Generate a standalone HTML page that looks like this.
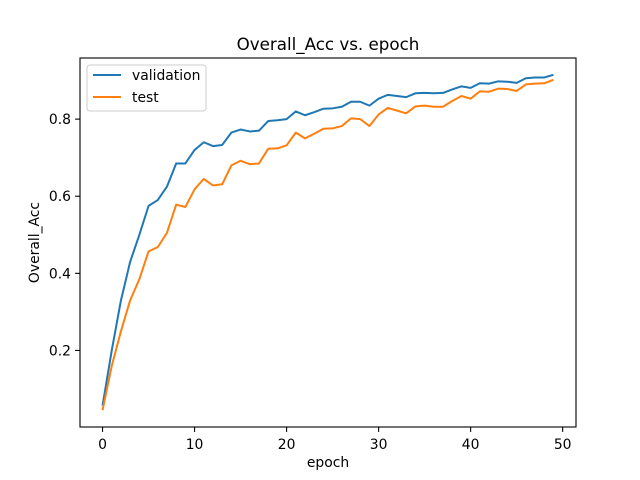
<!DOCTYPE html>
<html><head><meta charset="utf-8"><style>
body{margin:0;background:#fff}
svg{display:block;font-family:"DejaVu Sans","Liberation Sans",sans-serif}
</style></head><body>
<svg id="chart" width="640" height="480"></svg>
<script>
const epochs = Array.from({length:50},(_,i)=>i);
const validation = [0.057,0.20,0.33,0.43,0.50,0.575,0.59,0.625,0.685,0.685,0.72,0.74,0.73,0.733,0.765,0.773,0.768,0.77,0.795,0.797,0.80,0.82,0.81,0.818,0.827,0.828,0.832,0.845,0.845,0.835,0.853,0.863,0.86,0.857,0.867,0.868,0.867,0.868,0.877,0.885,0.881,0.893,0.892,0.898,0.897,0.894,0.906,0.908,0.908,0.915];
const test = [0.045,0.16,0.25,0.33,0.385,0.457,0.468,0.505,0.578,0.572,0.618,0.645,0.628,0.631,0.68,0.692,0.683,0.685,0.723,0.724,0.732,0.765,0.75,0.762,0.775,0.776,0.782,0.802,0.80,0.782,0.812,0.829,0.822,0.815,0.833,0.835,0.832,0.832,0.847,0.86,0.853,0.872,0.871,0.879,0.878,0.873,0.89,0.892,0.893,0.902];
const xTicks = [0,10,20,30,40,50];
const yTicks = [0.2,0.4,0.6,0.8];

const svg = document.getElementById('chart');
const NS='http://www.w3.org/2000/svg';
const L=80,R=576,T=58,B=427;
const xmin=-2.45,xmax=51.45,ymin=0.0015,ymax=0.9585;
const xs=v=>L+(v-xmin)/(xmax-xmin)*(R-L);
const ys=v=>B-(v-ymin)/(ymax-ymin)*(B-T);
function el(tag,attrs,txt){const e=document.createElementNS(NS,tag);for(const k in attrs)e.setAttribute(k,attrs[k]);if(txt!==undefined)e.textContent=txt;svg.appendChild(e);return e;}

xTicks.forEach(t=>{
  const x=xs(t);
  const l=el('line',{x1:x,x2:x,y1:B,y2:B+4.9,stroke:'#000','stroke-width':1.1});
  
  
  const tx=el('text',{x:x,y:B+22,'font-size':13.9,'text-anchor':'middle'},String(t));
  
  
});
yTicks.forEach(t=>{
  const y=ys(t);
  const l=el('line',{x1:L-4.9,x2:L,y1:y,y2:y,stroke:'#000','stroke-width':1.1});
  
  
  const tx=el('text',{x:L-9,y:y+5,'font-size':13.9,'text-anchor':'end'},t.toFixed(1));
  
  
});

function series(vals,color,name){
  const p=el('polyline',{points:vals.map((v,i)=>xs(epochs[i])+','+ys(v)).join(' '),fill:'none',stroke:color,'stroke-width':2,'stroke-linejoin':'round'});
  
  
}
series(validation,'#1f77b4','validation-line');
series(test,'#ff7f0e','test-line');

const frame=el('rect',{x:L,y:T,width:R-L,height:B-T,fill:'none',stroke:'#000','stroke-width':1.1});



const title=el('text',{x:(L+R)/2,y:T-8,'font-size':16.7,'text-anchor':'middle'},'Overall_Acc vs. epoch');


const xl=el('text',{x:(L+R)/2,y:467,'font-size':13.9,'text-anchor':'middle'},'epoch');


const yl=el('text',{x:0,y:0,'font-size':13.9,'text-anchor':'middle',transform:'translate(39,'+((T+B)/2)+') rotate(-90)'},'Overall_Acc');



const lg=el('rect',{x:87,y:65,width:119,height:46,rx:3,fill:'#fff','fill-opacity':0.8,stroke:'#ccc','stroke-width':1});


[['validation','#1f77b4',75],['test','#ff7f0e',97]].forEach(([n,c,y])=>{
  const l=el('line',{x1:93,x2:121,y1:y,y2:y,stroke:c,'stroke-width':2});
  
  
  const t=el('text',{x:132,y:y+5,'font-size':13.9},n);
  
  
});
</script>
</body></html>
